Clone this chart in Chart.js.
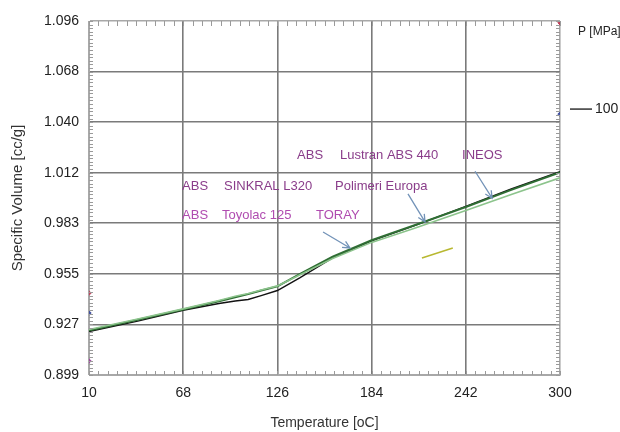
<!DOCTYPE html>
<html>
<head>
<meta charset="utf-8">
<script src="https://cdn.jsdelivr.net/npm/chart.js@4.4.0/dist/chart.umd.min.js"></script>
<style>
  html, body { margin: 0; padding: 0; background: #fff; }
  #wrap { width: 620px; height: 432px; }
</style>
</head>
<body>
<div id="wrap"><canvas id="myChart" width="620" height="432"></canvas></div>
<script>
// temperatures [oC] and specific volumes [cc/g] at 100 MPa
const temps = [10, 40, 68, 90, 100, 108, 116, 126, 140, 160, 184, 210, 242, 270, 300];
const lustran = [0.9232, 0.9290, 0.9350, 0.9388, 0.9402, 0.9410, 0.9432, 0.9460, 0.9532, 0.9642, 0.9737, 0.9820, 0.9928, 1.0025, 1.0122];
const sinkral = [0.9237, 0.9297, 0.9355, 0.9400, 0.9423, 0.9440, 0.9460, 0.9483, 0.9553, 0.9648, 0.9740, 0.9822, 0.9925, 1.0020, 1.0117];
const toyolac = [0.9243, 0.9302, 0.9358, 0.9405, 0.9428, 0.9444, 0.9463, 0.9486, 0.9548, 0.9638, 0.9728, 0.9805, 0.9905, 0.9995, 1.0087];

// stray short segment
const stubT = [215, 234];
const stubV = [0.9641, 0.9697];

// marks on the left/right edges
const markT = [10, 10, 10, 300, 300];
const markV = [0.9446, 0.9335, 0.9068, 1.0950, 1.0442];
const markColors = ['#c0405a', '#4050a0', '#a040a0', '#c0405a', '#4050a0'];

const xTicks = [10, 68, 126, 184, 242, 300];
const yMin = 0.899, yMax = 1.096, ySteps = 7;

const toPts = (xs, ys) => xs.map((x, i) => ({x: x, y: ys[i]}));

const labelFont = "'Liberation Sans', Arial, sans-serif";

const extras = {
  id: 'extras',
  afterDatasetsDraw(chart) {
    const {ctx, chartArea: a, scales: {x, y}} = chart;
    ctx.save();

    // minor ticks around the frame
    ctx.strokeStyle = '#9a9a9a';
    ctx.lineWidth = 1;
    ctx.beginPath();
    const xMinor = (xTicks[1] - xTicks[0]) / 10;
    for (let v = xTicks[0]; v <= 300 + 1e-6; v += xMinor) {
      const px = Math.round(x.getPixelForValue(v)) + 0.5;
      ctx.moveTo(px, a.top); ctx.lineTo(px, a.top + 5);
      ctx.moveTo(px, a.bottom); ctx.lineTo(px, a.bottom - 4);
    }
    const yMinor = (yMax - yMin) / ySteps / 14;
    for (let v = yMin; v <= yMax + 1e-6; v += yMinor) {
      const py = Math.round(y.getPixelForValue(v)) + 0.5;
      ctx.moveTo(a.left, py); ctx.lineTo(a.left + 4, py);
      ctx.moveTo(a.right, py); ctx.lineTo(a.right - 4, py);
    }
    ctx.stroke();

    // material labels
    ctx.font = '13px ' + labelFont;
    ctx.textBaseline = 'middle';
    ctx.textAlign = 'left';
    const rows = [
      {v: 1.0214, color: '#8a3d8a', parts: [['ABS', 138.1], ['Lustran ABS 440', 164.5], ['INEOS', 239.7]]},
      {v: 1.0042, color: '#8a3d8a', parts: [['ABS', 67.3], ['SINKRAL L320', 93.1], ['Polimeri Europa', 161.5]]},
      {v: 0.9880, color: '#b04cb0', parts: [['ABS', 67.3], ['Toyolac 125', 91.9], ['TORAY', 149.8]]}
    ];
    rows.forEach(r => {
      ctx.fillStyle = r.color;
      r.parts.forEach(p => ctx.fillText(p[0], x.getPixelForValue(p[1]), y.getPixelForValue(r.v)));
    });

    // arrows
    const arrows = [
      [154.1, 0.9786, 170.7, 0.9697],
      [206.4, 0.9998, 216.9, 0.9842],
      [247.7, 1.0124, 258.2, 0.9974]
    ];
    ctx.strokeStyle = '#7393b8';
    ctx.lineWidth = 1.3;
    arrows.forEach(ar => {
      const x0 = x.getPixelForValue(ar[0]), y0 = y.getPixelForValue(ar[1]);
      const x1 = x.getPixelForValue(ar[2]), y1 = y.getPixelForValue(ar[3]);
      const ang = Math.atan2(y1 - y0, x1 - x0);
      ctx.beginPath();
      ctx.moveTo(x0, y0); ctx.lineTo(x1, y1);
      ctx.moveTo(x1 - 8 * Math.cos(ang - 0.45), y1 - 8 * Math.sin(ang - 0.45));
      ctx.lineTo(x1, y1);
      ctx.lineTo(x1 - 8 * Math.cos(ang + 0.45), y1 - 8 * Math.sin(ang + 0.45));
      ctx.stroke();
    });

    // pressure legend on the right
    ctx.fillStyle = '#222';
    ctx.font = '12px ' + labelFont;
    ctx.fillText('P [MPa]', a.right + 18, a.top + 11);
    const ly = y.getPixelForValue(1.0442) - 5;
    ctx.strokeStyle = '#333';
    ctx.lineWidth = 1.5;
    ctx.beginPath();
    ctx.moveTo(a.right + 10, ly); ctx.lineTo(a.right + 32, ly);
    ctx.stroke();
    ctx.font = '14px ' + labelFont;
    ctx.fillText('100', a.right + 35, ly);

    ctx.restore();
  }
};

const edgeGrid = (c, inner, edge) => (c.index === 0 || c.index === c.scale.ticks.length - 1) ? edge : inner;

const config = {
  type: 'line',
  data: {
    datasets: [
      {label: 'Toyolac 125', data: toPts(temps, toyolac), borderColor: '#8cc48c', borderWidth: 1.6, pointRadius: 0},
      {label: 'SINKRAL L320', data: toPts(temps, sinkral), borderColor: '#2f6e34', borderWidth: 2, pointRadius: 0},
      {label: 'Lustran ABS 440', data: toPts(temps, lustran), borderColor: '#111', borderWidth: 1.4, pointRadius: 0},
      {label: 'stub', data: toPts(stubT, stubV), borderColor: '#b8b830', borderWidth: 1.5, pointRadius: 0},
      {label: 'marks', type: 'scatter', data: toPts(markT, markV), pointStyle: 'rectRot', pointRadius: 2.2,
        backgroundColor: markColors, borderColor: markColors, showLine: false}
    ]
  },
  options: {
    responsive: false,
    animation: false,
    layout: {padding: {left: 0, right: 60, top: 21, bottom: 0}},
    plugins: {legend: {display: false}, tooltip: {enabled: false}},
    scales: {
      x: {
        type: 'linear', min: 10, max: 300,
        afterBuildTicks: s => { s.ticks = xTicks.map(v => ({value: v})); },
        afterFit: s => { s.height = 57; },
        grid: {drawTicks: false, lineWidth: 1.6, color: c => edgeGrid(c, '#7a7a7a', '#a8a8a8')},
        border: {display: true, color: '#a8a8a8', width: 1},
        ticks: {color: '#222', font: {family: labelFont, size: 14}, padding: 10, maxRotation: 0},
        title: {display: true, text: 'Temperature [oC]', color: '#333', font: {family: labelFont, size: 14}, padding: {top: 0, bottom: 0}}
      },
      y: {
        type: 'linear', min: yMin, max: yMax,
        afterBuildTicks: s => {
          const t = [];
          for (let i = 0; i <= ySteps; i++) t.push({value: yMin + (yMax - yMin) * i / ySteps});
          s.ticks = t;
        },
        afterFit: s => { s.width = 89; },
        grid: {drawTicks: false, lineWidth: 1.6, color: c => edgeGrid(c, '#7a7a7a', '#a8a8a8')},
        border: {display: true, color: '#a8a8a8', width: 1},
        ticks: {color: '#222', font: {family: labelFont, size: 14}, padding: 10, callback: v => v.toFixed(3)},
        title: {display: true, text: 'Specific Volume [cc/g]', color: '#333', font: {family: labelFont, size: 15}, padding: {top: 9, bottom: 0}}
      }
    }
  },
  plugins: [extras]
};

const myChart = new Chart(document.getElementById('myChart'), config);
</script>
</body>
</html>
